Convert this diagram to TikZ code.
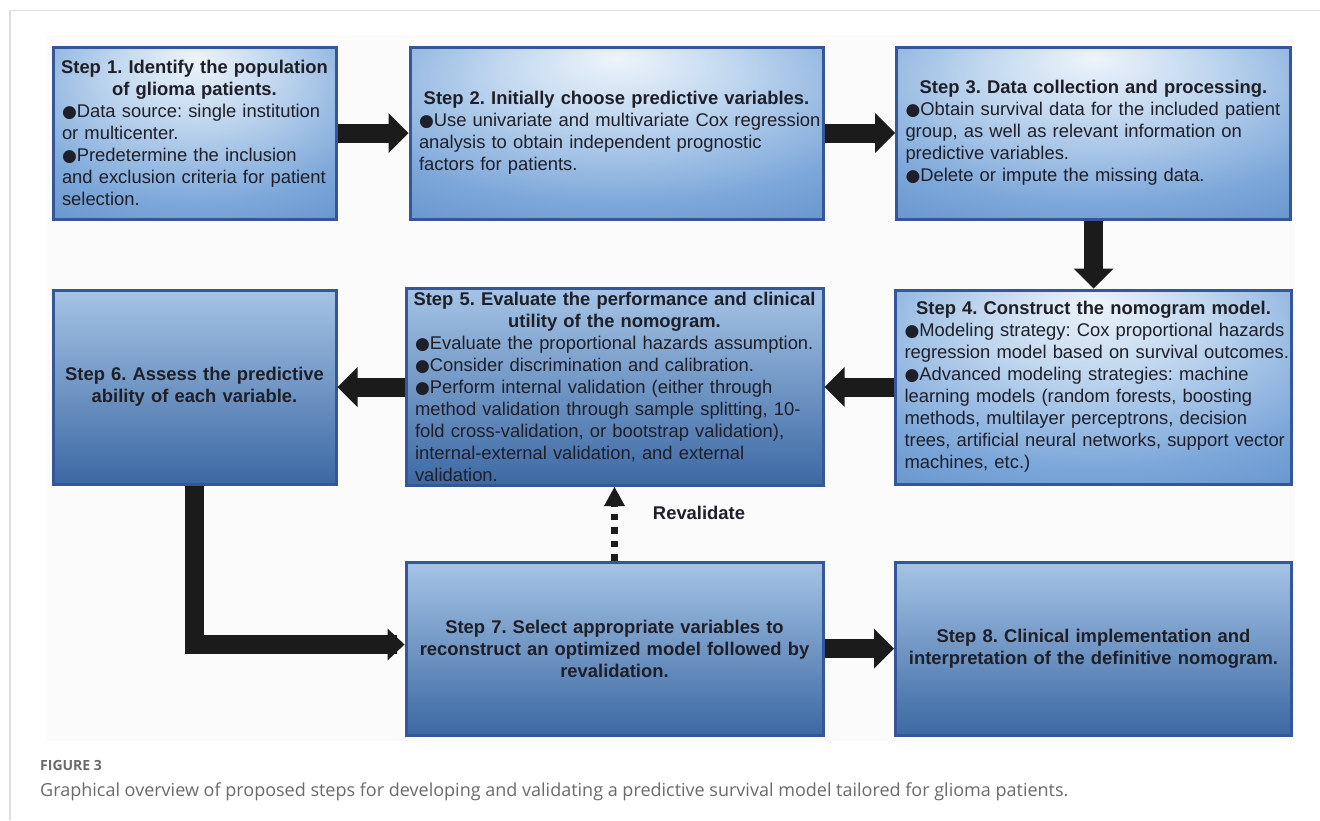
\documentclass[tikz,border=0pt]{standalone}
\usepackage{fontspec}
\setmainfont{Liberation Sans}
\newfontfamily\capfont{Open Sans}
\newfontfamily\bulfont{DejaVu Sans}
\usetikzlibrary{arrows.meta,positioning}

\definecolor{boxline}{HTML}{35579A}
\definecolor{boxtext}{HTML}{1E1F28}
\definecolor{arrowc}{HTML}{1B1B1B}
\definecolor{glowa}{HTML}{EEF4FA}
\definecolor{glowb}{HTML}{C2D8EF}
\definecolor{glowc}{HTML}{7BA6D9}
\definecolor{glowd}{HTML}{5283C0}
\definecolor{glowe}{HTML}{3F6BA7}
\definecolor{flattop}{HTML}{A5C4E5}
\definecolor{flatmid}{HTML}{6F9DD2}
\definecolor{flatbot}{HTML}{3C68A3}
\definecolor{figback}{HTML}{FBFBFB}
\definecolor{frameline}{HTML}{DEDEDE}
\definecolor{capgray}{HTML}{6A6A6A}
\pgfdeclareradialshading{glowbox}{\pgfpoint{0bp}{22bp}}{color(0bp)=(glowa); color(14bp)=(glowb); color(34bp)=(glowc); color(55bp)=(glowd); color(80bp)=(glowe)}

\newcommand\steptitle[1]{{\centering\bfseries #1\par}}
\newcommand\stepbody[1]{{\leftskip=5pt\rightskip=-5pt plus 2em\relax #1\par}}
\newcommand\bul{{\bulfont\fontsize{17}{22}\selectfont ●}}
\frenchspacing
\hyphenpenalty=10000

\begin{document}
\begin{tikzpicture}[x=1pt,y=-1pt,
  stepbox/.style={draw=boxline, line width=3pt, rectangle, inner xsep=4pt, inner ysep=0pt,
    text=boxtext, align=left, font=\fontsize{18.4}{22}\selectfont},
  glowstep/.style={stepbox, shading=glowbox},
  flatstep/.style={stepbox, top color=flattop, middle color=flatmid, bottom color=flatbot},
  fat/.style={draw=arrowc, line width=19pt, line cap=rect, shorten <=9.5pt,
    -{Triangle[length=20pt,width=40pt,line width=0pt]}},
  dotarrow/.style={draw=arrowc, line width=7pt, dash pattern=on 6.6pt off 6.8pt,
    -{Triangle[length=19pt,width=21pt,line width=0pt]}}]
\useasboundingbox (0,0) rectangle (1320,820);
\fill[figback] (47,35) rectangle (1295,741);
\draw[frameline, line width=1.5pt] (1320,10.5) -- (10,10.5) -- (10,820);

\node[glowstep, minimum width=283pt, minimum height=172pt, text width=275pt] (b1) at (194.5,133)
  {\steptitle{Step 1. Identify the population\\of glioma patients.}
   \stepbody{\bul Data source: single institution\\or multicenter.\\\bul Predetermine the inclusion\\and exclusion criteria for patient\\selection.}};
\node[glowstep, minimum width=413pt, minimum height=172pt, text width=405pt] (b2) at (616.5,133)
  {\steptitle{Step 2. Initially choose predictive variables.}
   \stepbody{\bul Use univariate and multivariate Cox regression\\analysis to obtain independent prognostic\\factors for patients.}};
\node[glowstep, minimum width=394pt, minimum height=172pt, text width=386pt] (b3) at (1093.5,133)
  {\steptitle{Step 3. Data collection and processing.}
   \stepbody{\bul Obtain survival data for the included patient\\group, as well as relevant information on\\predictive variables.\\\bul Delete or impute the missing data.}};
\node[glowstep, minimum width=396pt, minimum height=194pt, text width=388pt] (b4) at (1093.5,387)
  {\steptitle{Step 4. Construct the nomogram model.}
   \stepbody{\bul Modeling strategy: Cox proportional hazards\\regression model based on survival outcomes.\\\bul Advanced modeling strategies: machine\\learning models (random forests, boosting\\methods, multilayer perceptrons, decision\\trees, artificial neural networks, support vector\\machines, etc.)}};
\node[flatstep, minimum width=417pt, minimum height=197pt, text width=409pt] (b5) at (614.5,387)
  {\steptitle{Step 5. Evaluate the performance and clinical\\utility of the nomogram.}
   \stepbody{\bul Evaluate the proportional hazards assumption.\\\bul Consider discrimination and calibration.\\\bul Perform internal validation (either through\\method validation through sample splitting, 10-\\fold cross-validation, or bootstrap validation),\\internal-external validation, and external\\validation.}};
\node[flatstep, minimum width=283pt, minimum height=194pt, text width=275pt] (b6) at (194.5,387)
  {\steptitle{Step 6. Assess the predictive\\ability of each variable.}};
\node[flatstep, minimum width=417pt, minimum height=173pt, text width=409pt] (b7) at (614.5,648.5)
  {\steptitle{Step 7. Select appropriate variables to\\reconstruct an optimized model followed by\\revalidation.}};
\node[flatstep, minimum width=396pt, minimum height=173pt, text width=388pt] (b8) at (1093.5,648.5)
  {\steptitle{Step 8. Clinical implementation and\\interpretation of the definitive nomogram.}};

\draw[fat] (b1) -- (b2);
\draw[fat] (b2) -- (b3);
\draw[fat] (b3) -- (b4);
\draw[fat] (b4) -- (b5);
\draw[fat] (b5) -- (b6);
\draw[fat] (b7) -- (b8);
\draw[fat, line join=miter, -{Triangle[length=17pt,width=32pt,line width=0pt]}] (b6.south) |- ([yshift=4pt]b7.west);
\draw[dotarrow] (b7) -- (b5);
\node[font=\bfseries\fontsize{18.4}{22}\selectfont, text=boxtext] (reval) at (699,513) {Revalidate};

\node[font=\capfont\bfseries\fontsize{14}{16}\selectfont, text=capgray, anchor=base west, inner sep=0pt] (fig) at (40,770) {FIGURE 3};
\node[font=\capfont\fontsize{18}{21}\selectfont, text=capgray, anchor=base west, inner sep=0pt] (cap) at (40,796)
  {Graphical overview of proposed steps for developing and validating a predictive survival model tailored for glioma patients.};
\end{tikzpicture}
\end{document}
